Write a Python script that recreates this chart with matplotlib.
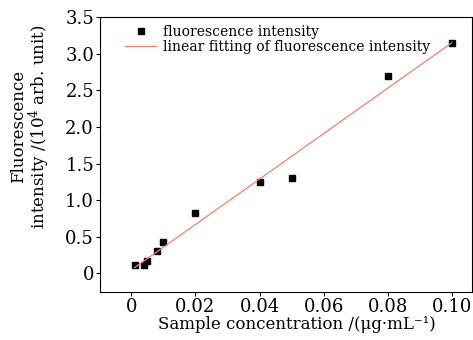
import numpy as np
import matplotlib
matplotlib.use("Agg")
import matplotlib.pyplot as plt

# sample concentration (ug/mL) and fluorescence intensity (1e4 arb. unit)
conc = [0.001, 0.004, 0.005, 0.008, 0.010, 0.020, 0.040, 0.050, 0.080, 0.100]
intensity = [0.11, 0.12, 0.17, 0.30, 0.43, 0.82, 1.25, 1.30, 2.69, 3.15]
xticks = [0, 0.02, 0.04, 0.06, 0.08, 0.10]
xtick_labels = ["0", "0.02", "0.04", "0.06", "0.08", "0.10"]
yticks = [0, 0.5, 1.0, 1.5, 2.0, 2.5, 3.0, 3.5]
ytick_labels = ["0", "0.5", "1.0", "1.5", "2.0", "2.5", "3.0", "3.5"]

plt.rcParams.update({
    "font.family": "DejaVu Serif",
    "mathtext.fontset": "dejavuserif",
    "font.size": 11,
})

fig, ax = plt.subplots(figsize=(4.73, 3.4), dpi=100)
fig.subplots_adjust(left=0.212, right=0.998, top=0.95, bottom=0.142)

slope, icpt = np.polyfit(conc, intensity, 1)
xfit = np.array([conc[0], conc[-1]])
ax.plot(conc, intensity, "s", color="black", ms=5, label="fluorescence intensity")
ax.plot(xfit, slope * xfit + icpt, color="#f4806c", lw=0.9,
        label="linear fitting of fluorescence intensity")

ax.set_xlim(-0.0097, 0.1063)
ax.set_ylim(-0.25, 3.5)
ax.set_xticks(xticks)
ax.set_xticklabels(xtick_labels)
ax.set_yticks(yticks)
ax.set_yticklabels(ytick_labels)
ax.tick_params(direction="out", length=3, top=False, right=False,
               labelsize=13, pad=1.5)

ax.set_xlabel("Sample concentration /(μg·mL⁻¹)", fontsize=12)
ax.xaxis.set_label_coords(0.53, -0.09)
ax.set_ylabel("Fluorescence\nintensity /(10$^4$ arb. unit)", fontsize=12,
              linespacing=1.0)
ax.yaxis.set_label_coords(-0.13, 0.6)

ax.legend(loc="upper left", frameon=False, fontsize=10, handlelength=2.2,
          borderaxespad=0.2, labelspacing=0.05, handletextpad=0.5,
          bbox_to_anchor=(0.045, 1.0))

fig.savefig("out.png", dpi=100)
